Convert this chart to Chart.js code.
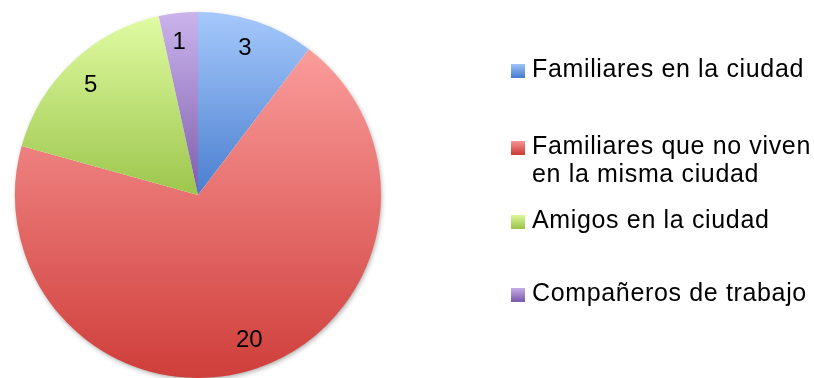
<!DOCTYPE html>
<html>
<head>
<meta charset="utf-8">
<script src="https://cdn.jsdelivr.net/npm/chart.js@4/dist/chart.umd.min.js"></script>
<style>
  html, body { margin: 0; padding: 0; background: #fff; }
  #wrap { width: 814px; height: 378px; position: relative; }
</style>
</head>
<body>
<div id="wrap"><canvas id="pie"></canvas></div>
<script>
// Red de apoyo: número de personas por categoría
const labels = [
  'Familiares en la ciudad',
  ['Familiares que no viven', 'en la misma ciudad'],
  'Amigos en la ciudad',
  'Compañeros de trabajo'
];
const values = [3, 20, 5, 1];

// light (top) / dark (bottom) stops for each slice
const topColors = ['#a6c9fc', '#fa9c9b', '#e0fba2', '#cab4ec'];
const bottomColors = ['#4a7ecf', '#cf3e3a', '#9cc64c', '#7e5dad'];

const FONT = "'Liberation Sans', Arial, sans-serif";

// vertical extent of a slice, used for its own gradient
function sliceExtent(cx, cy, r, a0, a1) {
  let minY = cy, maxY = cy;
  const steps = 60;
  for (let i = 0; i <= steps; i++) {
    const a = a0 + (a1 - a0) * i / steps;
    const y = cy + r * Math.sin(a);
    minY = Math.min(minY, y);
    maxY = Math.max(maxY, y);
  }
  return [minY, maxY];
}

function sliceGradient(context) {
  const chart = context.chart;
  const area = chart.chartArea;
  const i = context.dataIndex;
  if (!area || i === undefined) return topColors[i || 0];
  const cx = (area.left + area.right) / 2;
  const cy = (area.top + area.bottom) / 2;
  const r = Math.min(area.width, area.height) / 2;
  const total = values.reduce((s, v) => s + v, 0);
  let start = -Math.PI / 2;
  for (let k = 0; k < i; k++) start += values[k] / total * Math.PI * 2;
  const end = start + values[i] / total * Math.PI * 2;
  const [y0, y1] = sliceExtent(cx, cy, r, start, end);
  const g = chart.ctx.createLinearGradient(0, y0, 0, y1);
  g.addColorStop(0, topColors[i]);
  g.addColorStop(1, bottomColors[i]);
  return g;
}

// soft shadow under the whole pie
const pieShadow = {
  id: 'pieShadow',
  beforeDatasetsDraw(chart) {
    const arc = chart.getDatasetMeta(0).data[0];
    if (!arc) return;
    const c = chart.ctx;
    c.save();
    c.shadowColor = 'rgba(0,0,0,0.35)';
    c.shadowBlur = 5;
    c.shadowOffsetX = 1;
    c.shadowOffsetY = 2;
    c.fillStyle = '#ffffff';
    c.beginPath();
    c.arc(arc.x, arc.y, arc.outerRadius - 0.5, 0, Math.PI * 2);
    c.fill();
    c.restore();
  }
};

// values written inside each slice
const sliceValues = {
  id: 'sliceValues',
  afterDatasetsDraw(chart) {
    const c = chart.ctx;
    c.save();
    c.font = `24px ${FONT}`;
    c.fillStyle = '#000';
    c.textAlign = 'center';
    c.textBaseline = 'middle';
    chart.getDatasetMeta(0).data.forEach((arc, i) => {
      const mid = (arc.startAngle + arc.endAngle) / 2 - 0.015;
      const rr = arc.outerRadius * 0.84;
      c.fillText(String(values[i]), arc.x + rr * Math.cos(mid), arc.y + rr * Math.sin(mid));
    });
    c.restore();
  }
};

// legend on the right with gradient squares
const sideLegend = {
  id: 'sideLegend',
  afterDraw(chart) {
    const c = chart.ctx;
    const rows = [70, 147, 221, 294];
    const boxX = 511, textX = 532, box = 14, lineH = 28;
    c.save();
    c.font = `25px ${FONT}`;
    c.letterSpacing = '0.65px';
    c.fillStyle = '#000';
    c.textBaseline = 'middle';
    labels.forEach((lab, i) => {
      const y = rows[i];
      const g = c.createLinearGradient(0, y - box / 2, 0, y + box / 2);
      g.addColorStop(0, topColors[i]);
      g.addColorStop(1, bottomColors[i]);
      c.fillStyle = g;
      c.fillRect(boxX, y - box / 2 + 1, box, box);
      c.fillStyle = '#000';
      const lines = Array.isArray(lab) ? lab : [lab];
      lines.forEach((t, j) => c.fillText(t, textX, y + j * lineH));
    });
    c.restore();
  }
};

new Chart(document.getElementById('pie'), {
  type: 'pie',
  data: {
    labels: labels.map(l => Array.isArray(l) ? l.join(' ') : l),
    datasets: [{
      data: values,
      backgroundColor: sliceGradient,
      borderWidth: 0
    }]
  },
  options: {
    responsive: true,
    maintainAspectRatio: false,
    animation: false,
    layout: { padding: { top: 12, bottom: 0, left: 15, right: 433 } },
    plugins: {
      legend: { display: false },
      tooltip: { enabled: false }
    }
  },
  plugins: [pieShadow, sliceValues, sideLegend]
});
</script>
</body>
</html>
